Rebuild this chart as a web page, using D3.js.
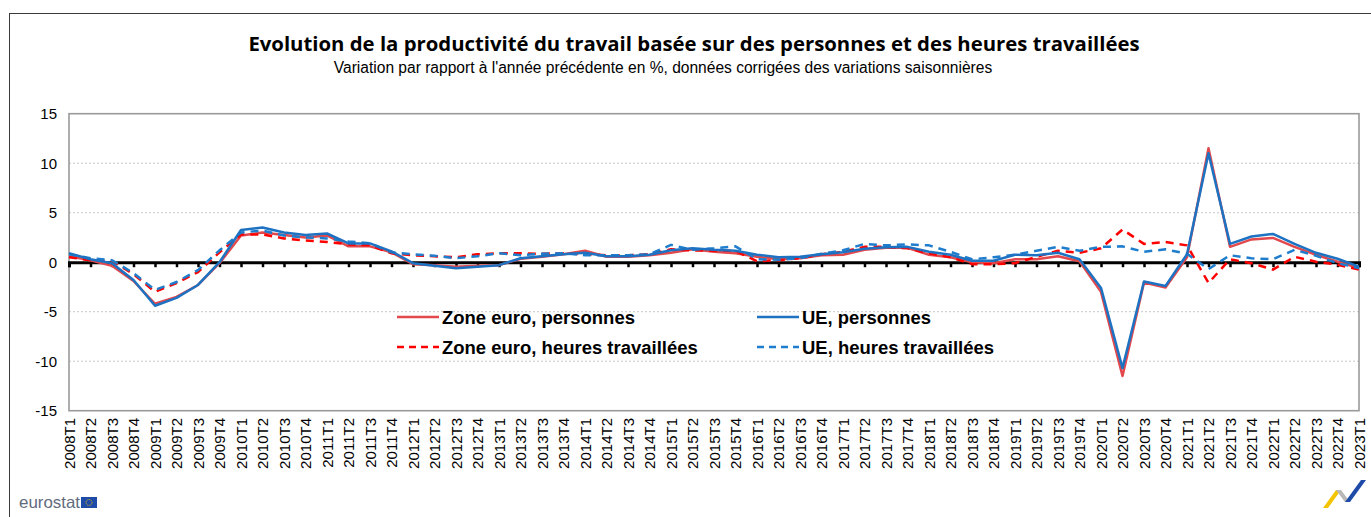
<!DOCTYPE html>
<html><head><meta charset="utf-8">
<script src="https://cdn.jsdelivr.net/npm/d3@7"></script>
<style>html,body{margin:0;padding:0;background:#fff;}svg{display:block;}</style>
</head><body>
<svg id="c" width="1371" height="517"></svg>
<script>
const categories = ["2008T1","2008T2","2008T3","2008T4","2009T1","2009T2","2009T3","2009T4","2010T1","2010T2","2010T3","2010T4","2011T1","2011T2","2011T3","2011T4","2012T1","2012T2","2012T3","2012T4","2013T1","2013T2","2013T3","2013T4","2014T1","2014T2","2014T3","2014T4","2015T1","2015T2","2015T3","2015T4","2016T1","2016T2","2016T3","2016T4","2017T1","2017T2","2017T3","2017T4","2018T1","2018T2","2018T3","2018T4","2019T1","2019T2","2019T3","2019T4","2020T1","2020T2","2020T3","2020T4","2021T1","2021T2","2021T3","2021T4","2022T1","2022T2","2022T3","2022T4","2023T1"];
const zoneEuroPersonnes = [0.6,0.2,-0.35,-1.9,-4.2,-3.5,-2.3,-0.1,2.7,3.0,2.75,2.5,2.7,1.6,1.6,1.0,-0.2,-0.3,-0.45,-0.35,-0.3,0.35,0.55,0.8,1.15,0.55,0.55,0.7,0.95,1.3,1.05,0.9,0.55,0.3,0.4,0.7,0.75,1.25,1.45,1.45,0.75,0.5,0.0,-0.1,0.3,0.3,0.6,0.1,-3.0,-11.5,-2.05,-2.55,0.5,11.5,1.55,2.3,2.45,1.55,0.75,0.05,-0.6];
const uePersonnes = [0.9,0.3,-0.1,-1.8,-4.4,-3.6,-2.3,0.0,3.25,3.5,3.0,2.75,2.9,1.9,1.9,1.1,-0.1,-0.35,-0.6,-0.45,-0.3,0.4,0.6,0.8,0.95,0.6,0.6,0.75,1.2,1.4,1.25,1.15,0.75,0.5,0.55,0.8,1.0,1.35,1.5,1.55,1.05,0.75,0.15,0.15,0.75,0.7,0.95,0.3,-2.6,-10.7,-1.95,-2.4,0.8,11.0,1.85,2.6,2.85,1.85,0.95,0.35,-0.45];
const zoneEuroHeures = [0.5,0.2,0.1,-1.2,-3.0,-2.1,-1.0,1.0,2.8,2.8,2.4,2.2,2.05,1.8,1.7,0.9,0.7,0.6,0.5,0.8,0.9,0.9,0.85,0.9,0.8,0.7,0.7,0.8,1.3,1.2,1.15,1.15,0.1,0.2,0.4,0.8,1.05,1.55,1.55,1.4,0.9,0.5,-0.2,-0.2,-0.1,0.55,1.15,0.95,1.4,3.3,1.85,2.05,1.7,-2.1,0.3,-0.1,-0.75,0.55,0.05,-0.25,-0.75];
const ueHeures = [0.8,0.4,0.2,-1.1,-2.8,-2.0,-0.8,1.2,3.0,3.2,2.7,2.5,2.4,2.1,1.9,1.0,0.8,0.65,0.4,0.6,0.9,0.7,0.85,0.9,0.7,0.7,0.7,0.8,1.75,1.25,1.4,1.6,0.3,0.25,0.4,0.85,1.2,1.85,1.7,1.8,1.7,1.05,0.3,0.5,0.75,1.15,1.55,1.15,1.55,1.6,1.05,1.3,0.85,-0.7,0.7,0.4,0.3,1.25,0.65,-0.1,-0.6];
const yTicks = [-15,-10,-5,0,5,10,15];
const seriesNames = ["Zone euro, personnes","UE, personnes","Zone euro, heures travaillées","UE, heures travaillées"];

const title = "Evolution de la productivité du travail basée sur des personnes et des heures travaillées";
const subtitle = "Variation par rapport à l'année précédente en %, données corrigées des variations saisonnières";

const svg = d3.select("#c");
const L = 69, R = 1359, T = 113.7, B = 410.7;
const x = d3.scalePoint().domain(categories).range([L, R]).padding(0);
const y = d3.scaleLinear().domain([-15, 15]).range([B, T]);

function fit(sel, base, target) {
  const w = sel.node().getComputedTextLength();
  sel.attr("font-size", base * target / w);
}

// outer border
svg.append("rect").attr("x", 9.5).attr("y", 13.5).attr("width", 1400).attr("height", 600)
  .attr("fill", "none").attr("stroke", "#3a3a3a").attr("stroke-width", 1);

// titles
const t = svg.append("text").attr("x", 694).attr("y", 51).attr("text-anchor", "middle")
  .attr("font-family", "'Open Sans', 'Liberation Sans', sans-serif").attr("font-weight", "bold")
  .attr("font-size", 20).attr("fill", "#000").text(title);
fit(t, 20, 892);
const st = svg.append("text").attr("x", 663).attr("y", 73).attr("text-anchor", "middle")
  .attr("font-family", "'Liberation Sans', Arial, sans-serif")
  .attr("font-size", 14).attr("fill", "#000").text(subtitle);
fit(st, 14, 659);

// grid lines
svg.append("g").selectAll("line").data(yTicks.filter(v => v !== 0 && Math.abs(v) !== 15)).join("line")
  .attr("x1", L).attr("x2", R).attr("y1", d => y(d)).attr("y2", d => y(d))
  .attr("stroke", "#c8c8c8").attr("stroke-width", 1).attr("stroke-dasharray", "2,2");

// frame
svg.append("rect").attr("x", L).attr("y", T).attr("width", R - L).attr("height", B - T)
  .attr("fill", "none").attr("stroke", "#9a9a9a").attr("stroke-width", 1.6);

// y axis labels
const yAxis = d3.axisLeft(y).tickValues(yTicks).tickSize(0).tickPadding(12).tickFormat(d => String(d));
const gy = svg.append("g").attr("transform", `translate(${L},0)`).call(yAxis);
gy.select(".domain").remove();
gy.selectAll("text").attr("font-family", "'Liberation Sans', Arial, sans-serif").attr("font-size", 15).attr("fill", "#000");

// x axis labels (rotated)
const gx = svg.append("g");
gx.selectAll("text").data(categories).join("text")
  .attr("transform", d => `translate(${x(d) + 5.5},${418}) rotate(-90)`)
  .attr("text-anchor", "end")
  .attr("font-family", "'Liberation Sans', Arial, sans-serif").attr("font-size", 15).attr("fill", "#000")
  .text(d => d);

// zero line with ticks
const zAxis = d3.axisBottom(x).tickSize(5).tickFormat("");
const gz = svg.append("g").attr("transform", `translate(0,${y(0)})`).call(zAxis);
gz.select(".domain").attr("stroke", "#000").attr("stroke-width", 3);
gz.selectAll(".tick line").attr("stroke", "#000").attr("stroke-width", 2.5);

// lines
const line = d3.line().x((d, i) => x(categories[i])).y(d => y(d));
const styles = [
  { data: zoneEuroPersonnes, color: "#e2484c", dash: null },
  { data: uePersonnes, color: "#1d72c2", dash: null },
  { data: zoneEuroHeures, color: "#ff0000", dash: "8,6" },
  { data: ueHeures, color: "#1e7dcc", dash: "8,6" }
];
const gl = svg.append("g");
[0, 2, 3, 1].forEach(k => {
  const s = styles[k];
  gl.append("path").datum(s.data).attr("d", line).attr("fill", "none")
    .attr("stroke", s.color).attr("stroke-width", 2.5).attr("stroke-linejoin", "round")
    .attr("stroke-dasharray", s.dash);
});

// legend
const legPos = [[397, 317], [757, 317], [397, 347], [757, 347]];
const legWidths = [193, 129, 256, 192];
const gLeg = svg.append("g");
seriesNames.forEach((n, i) => {
  const [lx, ly] = legPos[i];
  gLeg.append("line").attr("x1", lx).attr("x2", lx + 42).attr("y1", ly).attr("y2", ly)
    .attr("stroke", styles[i].color).attr("stroke-width", 2.5).attr("stroke-dasharray", styles[i].dash ? "7,5" : null);
  const tx = gLeg.append("text").attr("x", lx + 45).attr("y", ly + 6.5)
    .attr("font-family", "'Liberation Sans', Arial, sans-serif").attr("font-weight", "bold")
    .attr("font-size", 16).attr("fill", "#000").text(n);
  fit(tx, 16, legWidths[i]);
});

// eurostat logo
const eu = svg.append("text").attr("x", 19).attr("y", 508).attr("font-family", "'Liberation Sans', Arial, sans-serif")
  .attr("font-size", 16).attr("fill", "#5f6b7d").text("eurostat");
fit(eu, 16, 61);
svg.append("rect").attr("x", 81).attr("y", 497).attr("width", 16).attr("height", 11).attr("fill", "#1e4aa8");
svg.append("circle").attr("cx", 89).attr("cy", 502.5).attr("r", 3).attr("fill", "none")
  .attr("stroke", "#f2c500").attr("stroke-width", 1).attr("stroke-dasharray", "1,1");

// bottom-right decorative logo
const lg = svg.append("g");
lg.append("polygon").attr("points", "1323,508 1336,490 1341,490 1328,508").attr("fill", "#f5c400");
lg.append("polygon").attr("points", "1336,490 1341,490 1350,502 1345,502").attr("fill", "#b8b8b8");
lg.append("polygon").attr("points", "1345,502 1350,502 1366,480 1361,480").attr("fill", "#1e4aa8");
</script>
</body></html>
